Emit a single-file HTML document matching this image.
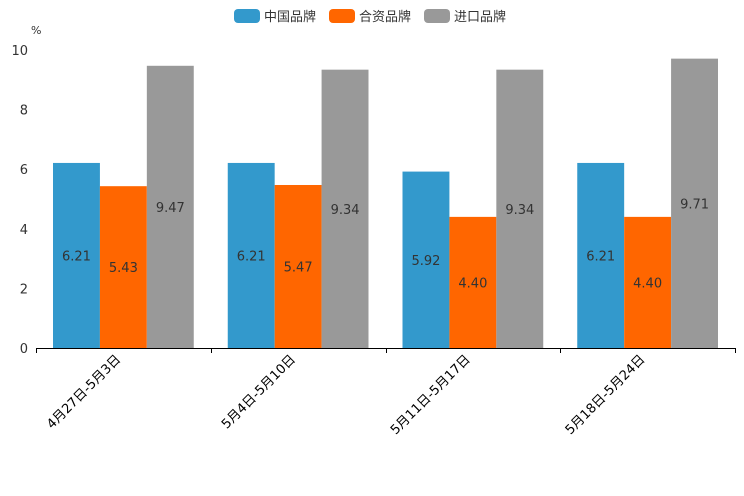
<!DOCTYPE html>
<html><head><meta charset="utf-8">
<style>
html,body{margin:0;padding:0;background:#fff;}
svg{display:block;font-family:"DejaVu Sans","Noto Sans CJK SC",sans-serif;}
</style></head>
<body>
<svg id="chart" width="744" height="496">
<g id="legend"></g>
<text x="31" y="34" font-size="11" fill="#333">%</text>
<g id="yaxis"></g>
<g id="bars"></g>
<g id="xaxis"></g>
</svg>
<script>
const categories = ["4月27日-5月3日","5月4日-5月10日","5月11日-5月17日","5月18日-5月24日"];
const seriesNames = ["中国品牌","合资品牌","进口品牌"];
const domestic = [6.21,6.21,5.92,6.21];
const jointVenture = [5.43,5.47,4.40,4.40];
const imported = [9.47,9.34,9.34,9.71];
const yTicks = [0,2,4,6,8,10];
const colors = ["#3399cc","#ff6600","#999999"];
const series = [domestic, jointVenture, imported];
const NS="http://www.w3.org/2000/svg";
const x0=36,x1=735,y0=348,y1=50,yMax=10;
const band=(x1-x0)/categories.length;
const pad=17, bw=(band-2*pad)/3;
function y(v){return y0-(v/yMax)*(y0-y1);}
function mk(tag,attrs,parent){const e=document.createElementNS(NS,tag);for(const k in attrs)e.setAttribute(k,attrs[k]);parent.appendChild(e);return e;}
const yaxis=document.getElementById('yaxis');
yTicks.forEach(t=>{
  const tx=mk('text',{x:28,y:y(t)+5,'text-anchor':'end','font-size':13,fill:'#333'},yaxis);
  tx.textContent=t;
  
  
});
const bars=document.getElementById('bars');
categories.forEach((c,i)=>{
  series.forEach((s,j)=>{
    const bx=x0+i*band+pad+j*bw;
    const r=mk('rect',{x:bx,y:y(s[i]),width:bw,height:y0-y(s[i]),fill:colors[j]},bars);
    
    
    const t=mk('text',{x:bx+bw/2,y:(y(s[i])+y0)/2+5,'text-anchor':'middle','font-size':13,fill:'#333'},bars);
    t.textContent=s[i].toFixed(2);
    
    
  });
});
const xaxis=document.getElementById('xaxis');
const ax=mk('line',{x1:x0,y1:y0+0.5,x2:x1,y2:y0+0.5,stroke:'#000','stroke-width':1},xaxis);


for(let i=0;i<=categories.length;i++){
  const tx=Math.round(x0+i*band)+0.5;
  const tk=mk('line',{x1:tx,y1:y0,x2:tx,y2:y0+5,stroke:'#000'},xaxis);
  
  
}
categories.forEach((c,i)=>{
  const cx=x0+i*band+band/2-2, cy=360;
  const t=mk('text',{x:cx,y:cy,'text-anchor':'end','font-size':13,fill:'#000',transform:`rotate(-45 ${cx} ${cy})`},xaxis);
  t.textContent=c;
  
  
});
const legend=document.getElementById('legend');
const lx=[234,329,424];
seriesNames.forEach((n,j)=>{
  const r=mk('rect',{x:lx[j],y:9,width:26,height:14,rx:4,fill:colors[j]},legend);
  
  
  const t=mk('text',{x:lx[j]+30,y:21,'font-size':13,fill:'#333'},legend);
  t.textContent=n;
  
  
});
</script>
</body></html>
